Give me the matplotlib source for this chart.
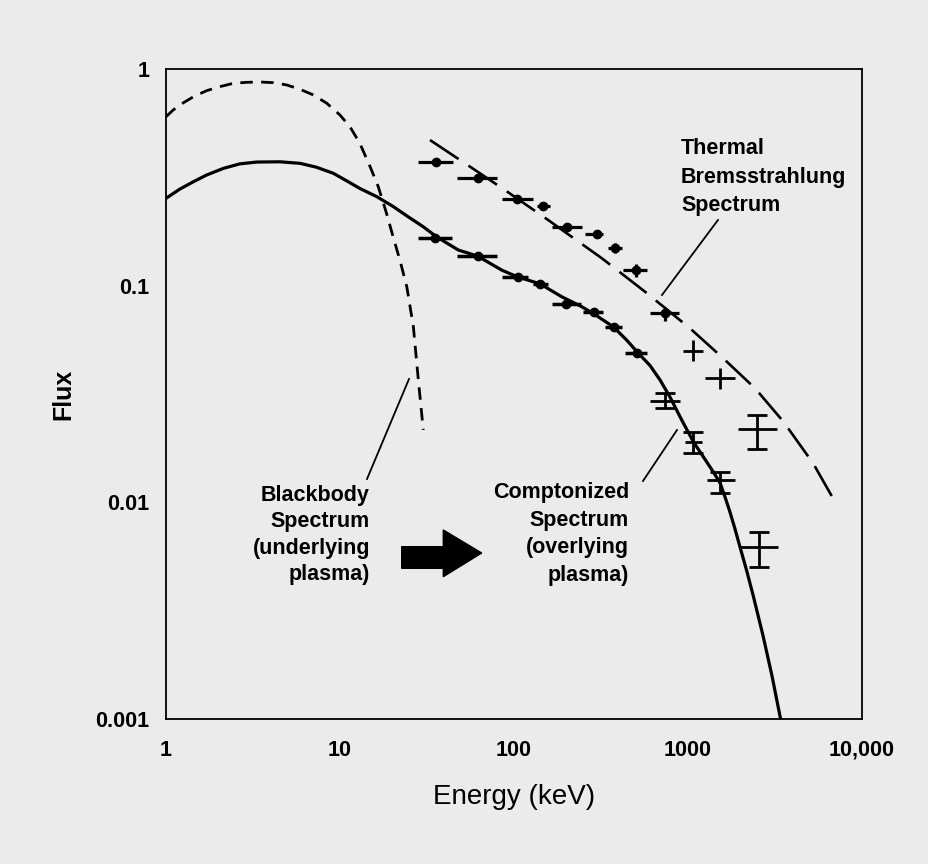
import numpy as np
import matplotlib
matplotlib.use("Agg")
import matplotlib.pyplot as plt
from matplotlib.lines import Line2D
from matplotlib.patches import Polygon

# ---------------- data ----------------
# Comptonized (solid) model spectrum
compt_E = [1, 1.20, 1.44, 1.71, 2.14, 2.66, 3.32, 4.52, 5.89, 7.33, 9.16, 10.9, 13.0, 16.2,
           20.2, 24.2, 30.1, 35.9, 47.9, 61.7, 85, 105, 141, 188, 245, 292, 372, 444, 518,
           605, 691, 788, 920, 1075, 1281, 1398, 1528, 1632, 1742, 1862, 1990, 2175, 2364,
           2700, 3040, 3404]
compt_F = [0.253, 0.279, 0.302, 0.324, 0.348, 0.365, 0.372, 0.373, 0.367, 0.352, 0.330, 0.305,
           0.281, 0.258, 0.232, 0.210, 0.187, 0.168, 0.146, 0.137, 0.118, 0.1097, 0.102,
           0.0889, 0.080, 0.0735, 0.0646, 0.0561, 0.0488, 0.0428, 0.0367, 0.0306, 0.024,
           0.0190, 0.01536, 0.01381, 0.0123, 0.01059, 0.00903, 0.00754, 0.00622, 0.00483,
           0.00374, 0.00242, 0.00158, 0.001]

# Blackbody (short dashed) spectrum
bb_E = [1, 1.10, 1.26, 1.44, 1.71, 2.04, 2.44, 2.91, 3.47, 4.14, 4.94, 5.89, 7.03, 8.39, 10,
        11.4, 13.0, 14.9, 16.6, 18.5, 20.2, 22.1, 24.2, 26.4, 28.2, 30.1]
bb_F = [0.602, 0.647, 0.699, 0.745, 0.794, 0.829, 0.859, 0.868, 0.871, 0.865, 0.844, 0.806,
        0.759, 0.695, 0.613, 0.542, 0.454, 0.354, 0.286, 0.216, 0.168, 0.131, 0.099, 0.0647,
        0.0367, 0.0216]

# Thermal bremsstrahlung (long dashed) spectrum
brems_E = [32.9, 52.3, 88.8, 157, 319, 566, 1026, 1594, 2429, 3530, 5248, 7161]
brems_F = [0.470, 0.367, 0.276, 0.201, 0.134, 0.0938, 0.0636, 0.0462, 0.0336, 0.0236,
           0.0151, 0.00973]

# Upper data set (dots with error bars)
up_E   = [35.5, 62.1, 104, 147, 202, 300, 380, 502, 733]
up_Elo = [28.1, 47.0, 85.3, 136, 165, 256, 347, 423, 605]
up_Ehi = [44.6, 79.9, 129, 161, 246, 325, 418, 581, 882]
up_F   = [0.371, 0.314, 0.251, 0.233, 0.186, 0.173, 0.149, 0.118, 0.0748]
up_Flo = [0.371, 0.314, 0.251, 0.233, 0.186, 0.173, 0.1416, 0.1097, 0.0684]
up_Fhi = [0.371, 0.314, 0.251, 0.233, 0.186, 0.173, 0.157, 0.126, 0.0797]

# Upper data set, high-energy crosses (no caps)
upx_E   = [1069, 1528]
upx_Elo = [936, 1253]
upx_Ehi = [1220, 1862]
upx_F   = [0.050, 0.0375]
upx_Flo = [0.0447, 0.0334]
upx_Fhi = [0.0559, 0.0417]

# High-energy crosses with capped vertical bars (upper last point + lower set)
capx_E   = [2494, 738, 1069, 1528, 2559]
capx_Elo = [1936, 605, 961, 1285, 1990]
capx_Ehi = [3243, 899, 1203, 1862, 3289]
capx_F   = [0.0218, 0.0295, 0.0190, 0.0127, 0.00622]
capx_Flo = [0.0176, 0.0273, 0.0169, 0.0110, 0.00504]
capx_Fhi = [0.0253, 0.032, 0.0211, 0.0138, 0.0073]

# Lower data set (dots with error bars)
lo_E   = [35.2, 61.7, 105, 141, 199, 288, 375, 509]
lo_Elo = [28.1, 47.0, 85.3, 129, 165, 249, 333, 435]
lo_Ehi = [44.0, 79.9, 120, 157, 243, 325, 418, 581]
lo_F   = [0.166, 0.137, 0.1097, 0.102, 0.0823, 0.0752, 0.0645, 0.0489]

x_ticks = [1, 10, 100, 1000, 10000]
x_tick_labels = ["1", "10", "100", "1000", "10,000"]
y_ticks = [0.001, 0.01, 0.1, 1]
y_tick_labels = ["0.001", "0.01", "0.1", "1"]

# ---------------- figure ----------------
W, H = 929, 864
BG = "#ebebeb"
FONT = ["Liberation Sans", "DejaVu Sans"]
plt.rcParams["font.family"] = FONT

fig = plt.figure(figsize=(W / 100, H / 100), dpi=100, facecolor=BG)
ax = fig.add_axes([166 / W, 1 - 719 / H, (862 - 166) / W, (719 - 69) / H])
ax.set_facecolor(BG)
ax.set_xscale("log")
ax.set_yscale("log")
ax.set_xlim(1, 10000)
ax.set_ylim(0.001, 1)

for s in ax.spines.values():
    s.set_linewidth(1.3)
    s.set_color("black")

ax.set_xticks(x_ticks)
ax.set_xticklabels(x_tick_labels)
ax.set_yticks(y_ticks)
ax.set_yticklabels(y_tick_labels)
ax.minorticks_off()
ax.tick_params(axis="both", length=0, labelsize=15.5, colors="black")
ax.tick_params(axis="x", pad=15)
ax.tick_params(axis="y", pad=12)
for lab in ax.get_xticklabels() + ax.get_yticklabels():
    lab.set_fontweight("bold")

ax.set_xlabel("Energy (keV)", fontsize=20, labelpad=17)
ax.set_ylabel("Flux", fontsize=18, fontweight="bold", labelpad=14)

# model curves
ax.plot(compt_E, compt_F, color="black", lw=2.3, solid_joinstyle="round")
ax.plot(bb_E, bb_F, color="black", lw=2.0, dashes=(4.5, 3.0))
ax.plot(brems_E, brems_F, color="black", lw=1.9, dashes=(13, 4.5), dash_capstyle="butt")

def err(c, lo, hi):
    c, lo, hi = np.asarray(c), np.asarray(lo), np.asarray(hi)
    return np.vstack([c - lo, hi - c])

# dotted data sets
ax.errorbar(up_E, up_F, xerr=err(up_E, up_Elo, up_Ehi), yerr=err(up_F, up_Flo, up_Fhi),
            fmt="o", color="black", ms=6, elinewidth=2.3, capsize=0, zorder=4)
ax.errorbar(lo_E, lo_F, xerr=err(lo_E, lo_Elo, lo_Ehi),
            fmt="o", color="black", ms=6, elinewidth=2.5, capsize=0, zorder=4)

# crosses without caps
ax.errorbar(upx_E, upx_F, xerr=err(upx_E, upx_Elo, upx_Ehi),
            yerr=err(upx_F, upx_Flo, upx_Fhi), fmt="none", ecolor="black",
            elinewidth=2.0, capsize=0, zorder=4)
# crosses with capped vertical bars
ax.errorbar(capx_E, capx_F, xerr=err(capx_E, capx_Elo, capx_Ehi), fmt="none",
            ecolor="black", elinewidth=2.0, capsize=0, zorder=4)
ax.errorbar(capx_E, capx_F, yerr=err(capx_F, capx_Flo, capx_Fhi), fmt="none",
            ecolor="black", elinewidth=2.0, capsize=7, capthick=2.0, zorder=4)

# ---------------- annotations (figure pixel coords) ----------------
def fx(x):
    return x / W

def fy(y):
    return 1 - y / H

for (x0, y0, x1, y1) in [(718, 220, 662, 295), (409, 379, 367, 479), (677, 430, 643, 481)]:
    fig.add_artist(Line2D([fx(x0), fx(x1)], [fy(y0), fy(y1)], transform=fig.transFigure,
                          color="black", lw=1.3))

fig.text(fx(681), fy(177), "Thermal\nBremsstrahlung\nSpectrum", ha="left", va="center",
         fontsize=15.5, fontweight="bold", linespacing=1.45)
fig.text(fx(370), fy(535), "Blackbody\nSpectrum\n(underlying\nplasma)", ha="right",
         va="center", fontsize=15.5, fontweight="bold", linespacing=1.33)
fig.text(fx(629), fy(534), "Comptonized\nSpectrum\n(overlying\nplasma)", ha="right",
         va="center", fontsize=15.5, fontweight="bold", linespacing=1.40)

arrow_px = [(401.7, 546.7), (443.3, 546.7), (443.3, 530), (481.7, 553),
            (443.3, 576.7), (443.3, 568.3), (401.7, 568.3)]
fig.add_artist(Polygon([(fx(x), fy(y)) for x, y in arrow_px], closed=True,
                       transform=fig.transFigure, facecolor="black", edgecolor="black"))

fig.savefig("out.png", dpi=100, facecolor=BG)
